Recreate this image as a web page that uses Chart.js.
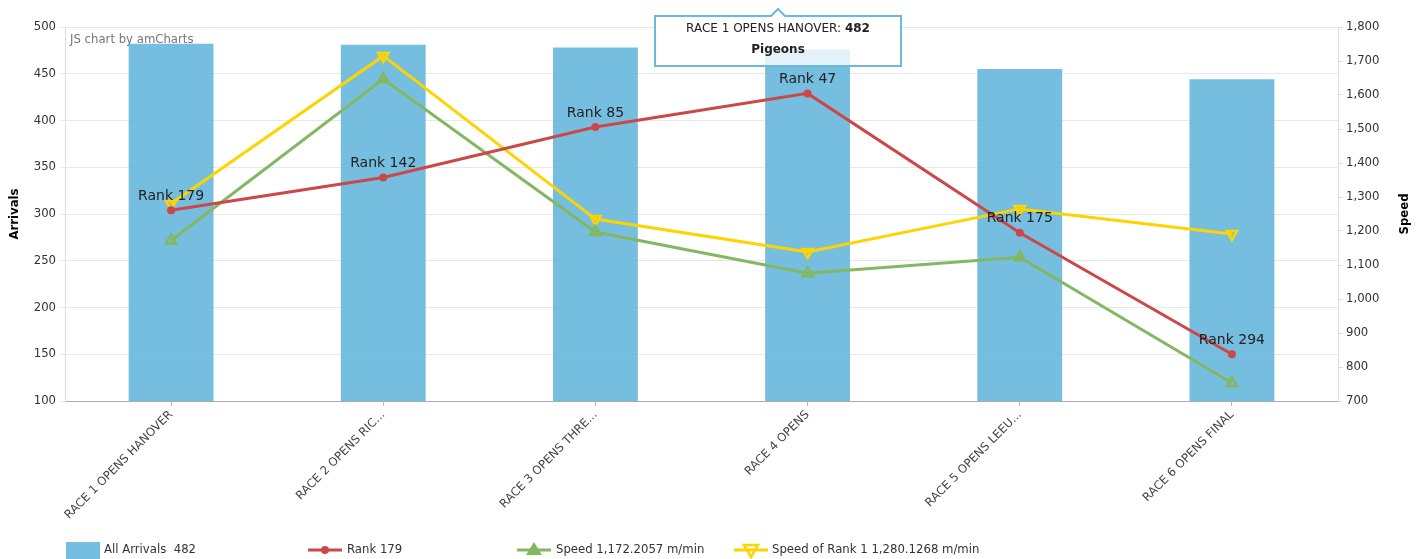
<!DOCTYPE html>
<html>
<head>
<meta charset="utf-8">
<script src="https://cdn.jsdelivr.net/npm/chart.js@4.4.0/dist/chart.umd.min.js"></script>
<style>
  html, body { margin: 0; padding: 0; background: #fff; }
  #wrap { width: 1422px; height: 559px; position: relative; }
</style>
</head>
<body>
<div id="wrap"><canvas id="chart"></canvas></div>
<script>
// Race names (as shown on the axis, truncated like the original)
const races = ['RACE 1 OPENS HANOVER', 'RACE 2 OPENS RIC...', 'RACE 3 OPENS THRE...', 'RACE 4 OPENS', 'RACE 5 OPENS LEEU...', 'RACE 6 OPENS FINAL'];
const arrivals = [482, 481, 478, 476, 455, 444];
const rankPosition = [304, 339, 393, 429, 280, 150];
const rankLabels = ['Rank 179', 'Rank 142', 'Rank 85', 'Rank 47', 'Rank 175', 'Rank 294'];
const speed = [1172.2057, 1647, 1197, 1076, 1123, 753];
const speedRank1 = [1280.1268, 1715, 1235, 1138, 1265, 1191];

const FONT = '"DejaVu Sans", Verdana, sans-serif';
const FS = 11.7;
const BLUE = 'rgba(103, 183, 220, 0.9)';
const RED = '#cc4748';
const GREEN = '#84b761';
const YELLOW = '#fdd400';

function fmt(v) {
    return v.toLocaleString('en-US', { minimumFractionDigits: 4, maximumFractionDigits: 4 });
}

// text labels above the rank points
const rankLabelPlugin = {
    id: 'rankLabels',
    afterDatasetsDraw(chart) {
        const meta = chart.getDatasetMeta(1);
        const ctx = chart.ctx;
        ctx.save();
        ctx.font = '14px ' + FONT;
        ctx.fillStyle = '#222';
        ctx.textAlign = 'center';
        ctx.textBaseline = 'middle';
        meta.data.forEach((pt, i) => {
            ctx.fillText(rankLabels[i], pt.x, pt.y - 14);
        });
        ctx.restore();
    }
};

// axis titles, watermark, legend and the fixed balloon
const extrasPlugin = {
    id: 'extras',
    afterDraw(chart) {
        const ctx = chart.ctx;
        const area = chart.chartArea;
        const midY = (area.top + area.bottom) / 2;
        ctx.save();

        // axis titles
        ctx.font = 'bold ' + FS + 'px ' + FONT;
        ctx.fillStyle = '#000';
        ctx.textAlign = 'center';
        ctx.textBaseline = 'middle';
        ctx.save();
        ctx.translate(15, midY);
        ctx.rotate(-Math.PI / 2);
        ctx.fillText('Arrivals', 0, 0);
        ctx.restore();
        ctx.save();
        ctx.translate(1405, midY);
        ctx.rotate(-Math.PI / 2);
        ctx.fillText('Speed', 0, 0);
        ctx.restore();

        // watermark
        ctx.font = FS + 'px ' + FONT;
        ctx.fillStyle = '#777';
        ctx.textAlign = 'left';
        ctx.fillText('JS chart by amCharts', area.left + 5, area.top + 13);

        // legend
        const ly = 550;
        ctx.font = FS + 'px ' + FONT;
        ctx.fillStyle = BLUE;
        ctx.fillRect(66, 542, 34, 17);
        ctx.fillStyle = '#333';
        ctx.fillText('All Arrivals  ' + arrivals[0], 104, ly);

        ctx.strokeStyle = RED;
        ctx.lineWidth = 3;
        ctx.beginPath(); ctx.moveTo(308, ly); ctx.lineTo(342, ly); ctx.stroke();
        ctx.fillStyle = RED;
        ctx.beginPath(); ctx.arc(325, ly, 4, 0, Math.PI * 2); ctx.fill();
        ctx.fillStyle = '#333';
        ctx.fillText(rankLabels[0], 347, ly);

        ctx.strokeStyle = GREEN;
        ctx.beginPath(); ctx.moveTo(517, ly); ctx.lineTo(551, ly); ctx.stroke();
        ctx.fillStyle = GREEN;
        ctx.beginPath(); ctx.moveTo(534, ly - 8); ctx.lineTo(542, ly + 5); ctx.lineTo(526, ly + 5); ctx.closePath(); ctx.fill();
        ctx.fillStyle = '#333';
        ctx.fillText('Speed ' + fmt(speed[0]) + ' m/min', 556, ly);

        ctx.strokeStyle = YELLOW;
        ctx.beginPath(); ctx.moveTo(734, ly); ctx.lineTo(768, ly); ctx.stroke();
        ctx.lineWidth = 2.5;
        ctx.beginPath(); ctx.moveTo(751, ly + 7); ctx.lineTo(758, ly - 5); ctx.lineTo(744, ly - 5); ctx.closePath(); ctx.stroke();
        ctx.fillStyle = '#333';
        ctx.fillText('Speed of Rank 1 ' + fmt(speedRank1[0]) + ' m/min', 772, ly);

        // balloon
        const bx = 655, by = 16, bw = 246, bh = 50, cx = bx + bw / 2;
        ctx.beginPath();
        ctx.moveTo(bx, by);
        ctx.lineTo(cx - 7, by);
        ctx.lineTo(cx, by - 7);
        ctx.lineTo(cx + 7, by);
        ctx.lineTo(bx + bw, by);
        ctx.lineTo(bx + bw, by + bh);
        ctx.lineTo(bx, by + bh);
        ctx.closePath();
        ctx.fillStyle = 'rgba(255,255,255,0.8)';
        ctx.fill();
        ctx.strokeStyle = '#6cb9da';
        ctx.lineWidth = 2;
        ctx.stroke();

        const t1 = races[0] + ': ';
        const t2 = String(arrivals[0]);
        ctx.font = '12px ' + FONT;
        const w1 = ctx.measureText(t1).width;
        ctx.font = 'bold 12px ' + FONT;
        const w2 = ctx.measureText(t2).width;
        const sx = cx - (w1 + w2) / 2;
        ctx.textAlign = 'left';
        ctx.fillStyle = '#222';
        ctx.font = '12px ' + FONT;
        ctx.fillText(t1, sx, by + 13);
        ctx.font = 'bold 12px ' + FONT;
        ctx.fillText(t2, sx + w1, by + 13);
        ctx.textAlign = 'center';
        ctx.fillText('Pigeons', cx, by + 34);

        ctx.restore();
    }
};

const ctx = document.getElementById('chart').getContext('2d');
new Chart(ctx, {
    type: 'bar',
    data: {
        labels: races,
        datasets: [
            {
                type: 'bar',
                label: 'All Arrivals',
                data: arrivals,
                backgroundColor: BLUE,
                barPercentage: 0.4,
                categoryPercentage: 1,
                yAxisID: 'y',
                order: 4
            },
            {
                type: 'line',
                label: 'Rank',
                data: rankPosition,
                borderColor: RED,
                backgroundColor: RED,
                borderWidth: 3,
                pointRadius: 4,
                pointBorderWidth: 0,
                pointBackgroundColor: RED,
                yAxisID: 'y',
                order: 1
            },
            {
                type: 'line',
                label: 'Speed',
                data: speed,
                borderColor: GREEN,
                borderWidth: 3,
                pointStyle: 'triangle',
                pointRadius: 6,
                pointBorderWidth: 2.5,
                pointBackgroundColor: 'rgba(132,183,97,0.2)',
                yAxisID: 'y1',
                order: 2
            },
            {
                type: 'line',
                label: 'Speed of Rank 1',
                data: speedRank1,
                borderColor: YELLOW,
                borderWidth: 3,
                pointStyle: 'triangle',
                rotation: 180,
                pointRadius: 6,
                pointBorderWidth: 2.5,
                pointBackgroundColor: 'rgba(253,212,0,0.2)',
                yAxisID: 'y1',
                order: 3
            }
        ]
    },
    options: {
        responsive: true,
        maintainAspectRatio: false,
        animation: false,
        layout: { padding: { top: 27, left: 0, right: 0, bottom: 0 } },
        plugins: {
            legend: { display: false },
            tooltip: { enabled: false }
        },
        scales: {
            x: {
                grid: { offset: false, drawOnChartArea: false, drawTicks: true, tickLength: 5, color: '#bbb' },
                border: { color: '#aaa' },
                ticks: {
                    minRotation: 45,
                    maxRotation: 45,
                    autoSkip: false,
                    padding: 2,
                    color: '#444',
                    font: { family: FONT, size: FS }
                },
                afterFit(scale) { scale.height = 158; }
            },
            y: {
                position: 'left',
                min: 100,
                max: 500,
                ticks: { stepSize: 50, color: '#333', padding: 4, font: { family: FONT, size: FS } },
                grid: { color: '#e8e8e8', tickLength: 5 },
                border: { color: '#ddd' },
                afterFit(scale) { scale.width = 65; }
            },
            y1: {
                position: 'right',
                min: 700,
                max: 1800,
                ticks: { stepSize: 100, color: '#333', padding: 3, font: { family: FONT, size: FS } },
                grid: { drawOnChartArea: false, color: '#ddd', tickLength: 5 },
                border: { color: '#ddd' },
                afterFit(scale) { scale.width = 84; }
            }
        }
    },
    plugins: [rankLabelPlugin, extrasPlugin]
});
</script>
</body>
</html>
